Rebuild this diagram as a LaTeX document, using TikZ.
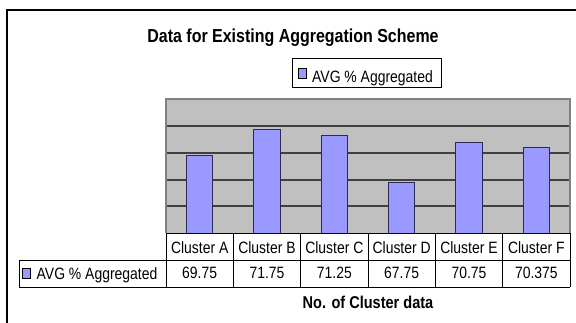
\documentclass[tikz,border=0pt]{standalone}
\usepackage{fontspec}
\newfontfamily\lsans[FakeStretch=0.85]{Liberation Sans}
\definecolor{barfill}{HTML}{9999FF}
\definecolor{baredge}{HTML}{2A2A55}
\definecolor{plotbg}{HTML}{C0C0C0}
\definecolor{plotedge}{HTML}{808080}
\definecolor{gridc}{HTML}{404040}
\tikzset{
  lbl/.style={font=\lsans\fontsize{16.4}{19}\selectfont, inner sep=0pt, anchor=base},
  ttl/.style={font=\lsans\bfseries\fontsize{18.8}{22}\selectfont, inner sep=0pt, anchor=base},
  axttl/.style={font=\lsans\bfseries\fontsize{17.1}{20}\selectfont, inner sep=0pt, anchor=base},
  barbox/.style={fill=barfill, draw=baredge, line width=1pt},
  mark box/.style={fill=barfill, draw=black, line width=0.8pt},
  gridline/.style={draw=gridc, line width=1.6pt},
  tabline/.style={draw=black, line width=0.8pt},
}
\begin{document}
\begin{tikzpicture}[x=1pt,y=-1pt]
\useasboundingbox (0,0) rectangle (576,322);
% outer frame
\draw[line width=1.4pt] (7,330) -- (7,10) -- (580,10);
% title
\node[ttl] (title) at (293,42.2) {Data for Existing Aggregation Scheme};
% legend
\node[draw=black, line width=0.8pt, minimum width=149pt, minimum height=29pt, inner sep=0pt] (legend) at (366.5,72.5) {};
\node[mark box, minimum width=8pt, minimum height=10pt, inner sep=0pt] (lmark) at (302,73.5) {};
\node[lbl, anchor=base west] (ltext) at (312,82.4) {AVG \% Aggregated};
% plot area
\fill[plotbg] (166,99) rectangle (570,233);
\foreach \yy in {126,153,180,206}
  \draw[gridline] (166,\yy) -- (570,\yy);
\draw[draw=plotedge, line width=1.6pt] (166,233) -- (166,99) -- (570,99) -- (570,233);
% bars
\foreach \i/\v in {0/69.75,1/71.75,2/71.25,3/67.75,4/70.75,5/70.375}{
  \pgfmathsetmacro{\cx}{166+(\i+0.5)*67.33}
  \pgfmathsetmacro{\ty}{233-(\v-64)*13.4}
  \draw[barbox] (\cx-13.3,233) rectangle (\cx+13.3,\ty);
}
% table
\draw[tabline] (166,233) -- (570,233);
\draw[tabline] (19,260) -- (570,260);
\draw[tabline] (19,287) -- (570,287);
\draw[tabline] (19,260) -- (19,287);
\foreach \k in {0,...,6}
  \draw[tabline] (166+\k*67.33,233) -- (166+\k*67.33,287);
\foreach \i/\c/\v in {0/A/69.75,1/B/71.75,2/C/71.25,3/D/67.75,4/E/70.75,5/F/70.375}{
  \node[lbl] (cat\c) at (166+\i*67.33+33.67,253.4) {Cluster \c};
  \node[lbl] (val\c) at (166+\i*67.33+33.67,278.8) {\v};
}
\node[mark box, minimum width=8pt, minimum height=10pt, inner sep=0pt] (tmark) at (26,273.5) {};
\node[lbl, anchor=base west] (ttext) at (36.5,279.2) {AVG \% Aggregated};
% axis title
\node[axttl] (axtitle) at (368,308) {No. of Cluster data};
\end{tikzpicture}
\end{document}
